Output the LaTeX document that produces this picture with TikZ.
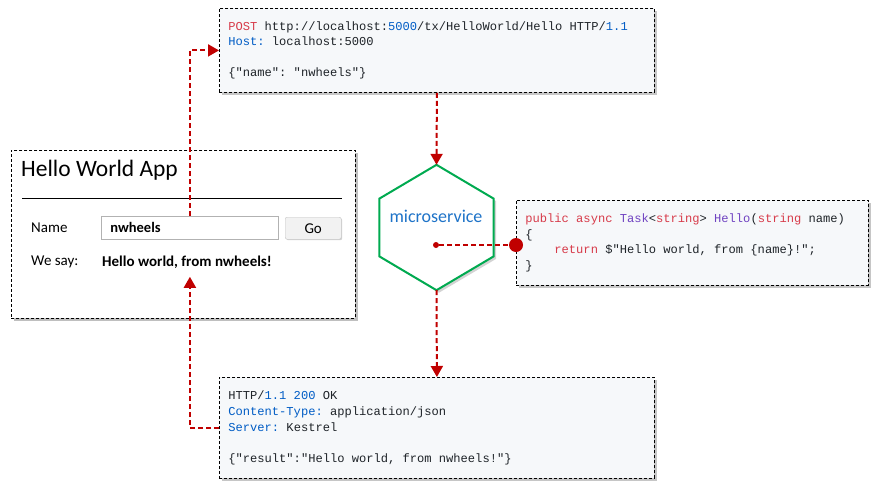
\documentclass[tikz,border=0pt]{standalone}
\usepackage{fontspec}
\setmainfont{Carlito}
\setmonofont{Liberation Mono}[WordSpace={1,0,0}]
\usepackage{xcolor}
\usetikzlibrary{arrows.meta, positioning, calc, shadows}

\definecolor{arrowred}{RGB}{192,0,0}
\definecolor{hexgreen}{RGB}{0,170,80}
\definecolor{svcblue}{RGB}{30,115,200}
\definecolor{codebg}{RGB}{246,248,250}
\definecolor{kwred}{RGB}{215,58,73}
\definecolor{numblue}{RGB}{0,92,197}
\definecolor{typepurple}{RGB}{111,66,193}
\definecolor{codedark}{RGB}{30,35,40}

\newcommand{\kw}[1]{\textcolor{kwred}{#1}}
\newcommand{\nb}[1]{\textcolor{numblue}{#1}}
\newcommand{\tp}[1]{\textcolor{typepurple}{#1}}

\begin{document}
\begin{tikzpicture}[
    x=1pt, y=-1pt,
    codebox/.style={rectangle, draw=black, dash pattern=on 3pt off 2pt, line width=0.8pt, fill=codebg, anchor=north west, align=flush left, inner xsep=9pt, inner ysep=0pt, font=\fontsize{12.1}{15.6}\selectfont\ttfamily, text=codedark, drop shadow={shadow xshift=2.5pt, shadow yshift=-2.5pt, opacity=0.45}},
    appbox/.style={rectangle, draw=black, dash pattern=on 3pt off 2pt, line width=0.8pt, fill=white, anchor=north west, inner sep=0pt, drop shadow={shadow xshift=2.5pt, shadow yshift=-2.5pt, opacity=0.5}},
    uilabel/.style={anchor=west, inner sep=0pt, font=\fontsize{15}{18}\selectfont},
    inputbox/.style={rectangle, draw=gray!60, line width=0.8pt, fill=white, anchor=north west, minimum width=177pt, minimum height=23pt, text width=159pt, inner xsep=9pt, inner ysep=0pt, align=flush left, font=\fontsize{14.5}{17}\selectfont\bfseries},
    button/.style={rectangle, rounded corners=2pt, draw=gray!45, fill=gray!10, anchor=north west, minimum width=56pt, minimum height=22pt, inner sep=0pt, font=\fontsize{15}{18}\selectfont, drop shadow={shadow xshift=1pt, shadow yshift=-1pt, opacity=0.35}},
    hexline/.style={draw=hexgreen, line width=2pt, fill=white, line join=miter, drop shadow={shadow xshift=2.5pt, shadow yshift=-2.5pt, opacity=0.35}},
    dot/.style={circle, fill=arrowred, inner sep=0pt},
    link/.style={draw=arrowred, line width=2pt, dash pattern=on 5pt off 3pt},
    flow/.style={link, -{Triangle[width=12pt,length=11pt]}}
]
    \useasboundingbox (0,0) rectangle (880,490);

    % Requests
    \node [codebox, text width=417pt, minimum height=84pt] (request) at (219,8) {%
        \kw{POST} http://localhost:\nb{5000}/tx/HelloWorld/Hello HTTP/\nb{1.1}\\
        \nb{Host:} localhost:5000\\
        \mbox{}\\
        \{"name": "nwheels"\}};
    \node [codebox, text width=417pt, minimum height=101pt] (response) at (219,377) {%
        HTTP/\nb{1.1 200} OK\\
        \nb{Content-Type:} application/json\\
        \nb{Server:} Kestrel\\
        \mbox{}\\
        \{"result":"Hello world, from nwheels!"\}};
    \node [codebox, text width=334pt, minimum height=85pt] (code) at (516,200) {%
        \kw{public} \kw{async} \tp{Task}<\kw{string}> \tp{Hello}(\kw{string} name)\\
        \{\\
        \phantom{xxxx}\kw{return} \$"Hello world, from \{name\}!";\\
        \}};

    % App
    \node [appbox, minimum width=344pt, minimum height=168pt] (app) at (11,150) {};
    \node [anchor=west, inner sep=0pt, font=\fontsize{23.5}{27}\selectfont] (title) at (21,170) {Hello World App};
    \draw [line width=0.9pt] ($(app.north west)+(11,48)$) -- ($(app.north east)+(-14,48)$);
    \node [uilabel] (namelabel) at (31,228) {Name};
    \node [inputbox] (nameinput) at (101,216) {nwheels};
    \node [button] (go) at (285,217) {Go};
    \node [uilabel] (saylabel) at (31,262) {We say:};
    \node [uilabel, font=\fontsize{15}{18}\selectfont\bfseries] (result) at (102,262) {Hello world, from nwheels!};
    \coordinate (sayin) at ($(nameinput.south)+(0,37)$);

    % Service
    \node [minimum width=114pt, minimum height=125pt, inner sep=0pt] (service) at (436.5,227.5) {};
    \draw [hexline] (service.north)
        -- ($(service.north east)!0.27!(service.south east)$)
        -- ($(service.north east)!0.73!(service.south east)$)
        -- (service.south)
        -- ($(service.north west)!0.73!(service.south west)$)
        -- ($(service.north west)!0.27!(service.south west)$)
        -- cycle;
    \node [font=\fontsize{18}{21}\selectfont, text=svcblue] (svclabel) at (436,216) {microservice};
    \node [dot, minimum size=6pt] (svcdot) at (436,245) {};
    \node [dot, minimum size=14pt] (codepin) at (code.west |- svcdot) {};

    % Connections
    \draw [link] (svcdot) -- (codepin);
    \draw [flow] (nameinput.north) |- (request.west);
    \draw [flow] (request.south) -- (service.north);
    \draw [flow] (service.south) -- (response.north);
    \draw [flow] (response.west) -| (sayin);
\end{tikzpicture}
\end{document}
